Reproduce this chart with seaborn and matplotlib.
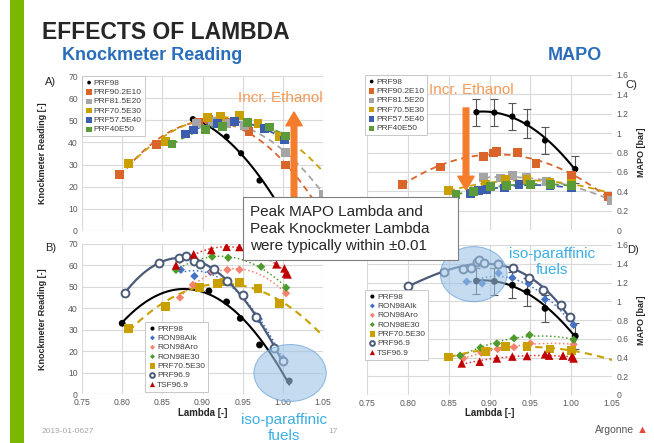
import numpy as np
import matplotlib
matplotlib.use("Agg")
import matplotlib.pyplot as plt
import seaborn as sns
from matplotlib.patches import Ellipse, Rectangle

# ---- data ----
lam_ticks = [0.75, 0.80, 0.85, 0.90, 0.95, 1.00, 1.05]
lam_labels = ["0.75", "0.80", "0.85", "0.90", "0.95", "1.00", "1.05"]
knock_ticks = [0, 10, 20, 30, 40, 50, 60, 70]
knock_labels = ["0", "10", "20", "30", "40", "50", "60", "70"]
mapo_ticks = [0, 0.2, 0.4, 0.6, 0.8, 1.0, 1.2, 1.4, 1.6]
mapo_labels = ["0", "0.2", "0.4", "0.6", "0.8", "1", "1.2", "1.4", "1.6"]

# A) knockmeter, ethanol blends
a_prf98_x = [0.888, 0.930, 0.948, 0.971, 1.005]
a_prf98_y = [50.5, 42.6, 35.1, 22.8, 6.0]
a_e10_x = [0.797, 0.843, 0.895, 0.908, 0.930, 0.958, 1.003]
a_e10_y = [25.6, 38.9, 49.0, 50.3, 49.0, 44.9, 29.8]
a_e20_x = [0.893, 0.912, 0.930, 0.952, 1.003, 1.051]
a_e20_y = [48.5, 49.5, 48.5, 47.5, 35.4, 16.6]
a_e30_x = [0.808, 0.854, 0.906, 0.922, 0.946, 0.969, 0.996]
a_e30_y = [30.6, 40.4, 51.4, 51.7, 52.0, 48.6, 42.6]
a_e40_x = [0.879, 0.889, 0.919, 0.940, 0.977, 1.002]
a_e40_y = [43.8, 45.6, 48.6, 49.4, 46.4, 41.1]
a_e50_x = [0.862, 0.904, 0.925, 0.956, 0.983, 1.003]
a_e50_y = [39.3, 46.0, 47.1, 49.0, 47.0, 42.9]

# C) MAPO, ethanol blends
c_prf98_x = [0.884, 0.906, 0.928, 0.946, 0.968, 1.005]
c_prf98_y = [1.216, 1.212, 1.171, 1.100, 0.924, 0.629]
c_prf98_err = [0.14, 0.14, 0.14, 0.15, 0.14, 0.14]
c_e10_x = [0.793, 0.840, 0.893, 0.905, 0.909, 0.934, 0.957, 1.000, 1.045]
c_e10_y = [0.468, 0.650, 0.760, 0.794, 0.807, 0.800, 0.684, 0.560, 0.348]
c_e20_x = [0.893, 0.913, 0.928, 0.945, 0.970, 1.000, 1.049]
c_e20_y = [0.543, 0.536, 0.560, 0.540, 0.500, 0.460, 0.307]
c_e30_x = [0.850, 0.895, 0.920, 0.946, 0.974, 1.000]
c_e30_y = [0.406, 0.468, 0.519, 0.520, 0.490, 0.478]
c_e40_x = [0.877, 0.887, 0.897, 0.918, 0.936, 0.974, 1.000]
c_e40_y = [0.375, 0.406, 0.416, 0.434, 0.468, 0.458, 0.433]
c_e50_x = [0.859, 0.880, 0.901, 0.921, 0.950, 0.975, 1.000]
c_e50_y = [0.365, 0.400, 0.450, 0.458, 0.468, 0.470, 0.460]

# B) knockmeter, other fuels
b_prf98_x = [0.800, 0.908, 0.930, 0.947, 0.971, 1.008]
b_prf98_y = [33.0, 48.1, 43.0, 35.3, 22.9, 6.1]
b_alk_x = [0.873, 0.890, 0.910, 0.950, 0.970, 1.000]
b_alk_y = [58.0, 55.0, 57.0, 46.0, 35.0, 16.5]
b_aro_x = [0.872, 0.888, 0.912, 0.931, 0.946, 1.004]
b_aro_y = [45.0, 50.9, 57.1, 57.9, 58.0, 47.0]
b_e30_x = [0.867, 0.890, 0.912, 0.932, 0.973, 1.004]
b_e30_y = [57.9, 62.0, 64.1, 63.6, 59.4, 49.6]
b_gold_x = [0.808, 0.854, 0.896, 0.919, 0.927, 0.946, 0.969, 0.996]
b_gold_y = [30.6, 40.7, 49.6, 51.6, 52.3, 52.0, 49.3, 42.3]
b_p969_x = [0.803, 0.846, 0.871, 0.879, 0.890, 0.897, 0.914, 0.931, 0.950, 0.967, 0.989, 1.000]
b_p969_y = [47.0, 61.3, 63.3, 64.4, 62.2, 60.7, 58.2, 52.9, 46.2, 35.8, 21.3, 15.5]
b_tsf_x = [0.867, 0.889, 0.911, 0.930, 0.946, 0.992, 1.002, 1.004, 1.006]
b_tsf_y = [60.0, 65.2, 67.2, 68.7, 68.6, 60.5, 58.6, 56.2, 55.8]

# D) MAPO, other fuels
d_alk_x = [0.872, 0.891, 0.911, 0.928, 0.948, 0.968, 1.003]
d_alk_y = [1.209, 1.190, 1.300, 1.250, 1.190, 1.020, 0.747]
d_aro_x = [0.868, 0.890, 0.910, 0.930, 0.950, 1.003]
d_aro_y = [0.390, 0.450, 0.490, 0.510, 0.550, 0.540]
d_e30_x = [0.864, 0.889, 0.909, 0.930, 0.949, 1.003]
d_e30_y = [0.420, 0.505, 0.550, 0.605, 0.640, 0.590]
d_p969_x = [0.800, 0.844, 0.868, 0.877, 0.885, 0.887, 0.893, 0.911, 0.929, 0.948, 0.966, 0.987, 0.998]
d_p969_y = [1.163, 1.315, 1.344, 1.350, 1.420, 1.440, 1.410, 1.400, 1.358, 1.245, 1.120, 0.960, 0.835]
d_tsf_x = [0.866, 0.888, 0.909, 0.928, 0.946, 0.968, 0.973, 0.990, 1.001, 1.003]
d_tsf_y = [0.337, 0.355, 0.390, 0.410, 0.416, 0.434, 0.420, 0.420, 0.410, 0.390]

# colours
BLACK = "#000000"
ORANGE = "#D9652B"
GREY = "#A5A5A5"
GOLD = "#C9A000"
BLUE = "#3B5FAE"
GREEN = "#5B9B3A"
ALK = "#4472C4"
ARO = "#F4826E"
E30G = "#4E9A2D"
SLATE = "#4A5A78"
RED = "#C00000"
ARROW = "#F47C2A"
TXT_OR = "#F59A55"
ISO = "#3BAFE3"

sns.set_theme(style="white")
plt.rcParams["font.family"] = ["Liberation Sans", "DejaVu Sans"]

fig = plt.figure(figsize=(6.54, 4.43), dpi=100)
fig.patch.set_facecolor("white")


def P(x, y):
    # slide pixel -> figure fraction
    return x / 654, 1 - y / 443


def trend(ax, x, y, color, ls, order=2, fwd=0.0, lw=1.3):
    c = np.polyfit(x, y, order)
    xs = np.linspace(min(x), max(x) + fwd, 120)
    ax.plot(xs, np.polyval(c, xs), color=color, linestyle=ls, lw=lw, zorder=2)


def pts(ax, x, y, color, marker, s, label):
    sns.scatterplot(x=x, y=y, ax=ax, color=color, marker=marker, s=s,
                    edgecolor="none", linewidth=0, label=label, zorder=3)


def open_pts(ax, x, y, label):
    ax.scatter(x, y, s=32, facecolors="white", edgecolors=SLATE,
               linewidths=1.4, label=label, zorder=3)


def style(ax, knock, show_x):
    ax.set_xlim(0.75, 1.05)
    ax.set_xticks(lam_ticks)
    if knock:
        ax.set_ylim(0, 70)
        ax.set_yticks(knock_ticks)
        ax.set_yticklabels(knock_labels)
    else:
        ax.set_ylim(0, 1.6)
        ax.set_yticks(mapo_ticks)
        ax.set_yticklabels(mapo_labels)
        ax.yaxis.tick_right()
    if show_x:
        ax.set_xticklabels(lam_labels)
    else:
        ax.set_xticklabels([])
    for sp in ax.spines.values():
        sp.set_visible(False)
    ax.grid(True, color="#D9D9D9", lw=0.8)
    ax.set_axisbelow(True)
    ax.tick_params(length=0, labelsize=6.2, colors="#595959", pad=3)
    ax.set_facecolor("none")


dash = (0, (3.5, 2.5))

axA = fig.add_axes([82 / 654, 1 - 231 / 443, 241 / 654, 155 / 443])
axB = fig.add_axes([82 / 654, 1 - 394 / 443, 241 / 654, 150 / 443])
axC = fig.add_axes([367 / 654, 1 - 230 / 443, 245 / 654, 155 / 443])
axD = fig.add_axes([367 / 654, 1 - 395 / 443, 245 / 654, 150 / 443])

SQ = 40

# ---- A ----
trend(axA, a_prf98_x, a_prf98_y, BLACK, "-", lw=1.5)
trend(axA, a_e10_x, a_e10_y, ORANGE, dash, fwd=0.045)
trend(axA, a_e20_x, a_e20_y, GREY, dash)
trend(axA, a_e30_x, a_e30_y, GOLD, dash, fwd=0.055)
trend(axA, a_e40_x, a_e40_y, BLUE, dash)
trend(axA, a_e50_x, a_e50_y, GREEN, dash)
pts(axA, a_prf98_x, a_prf98_y, BLACK, "o", 20, "PRF98")
pts(axA, a_e10_x, a_e10_y, ORANGE, "s", SQ, "PRF90.2E10")
pts(axA, a_e20_x, a_e20_y, GREY, "s", SQ, "PRF81.5E20")
pts(axA, a_e30_x, a_e30_y, GOLD, "s", SQ, "PRF70.5E30")
pts(axA, a_e40_x, a_e40_y, BLUE, "s", SQ, "PRF57.5E40")
pts(axA, a_e50_x, a_e50_y, GREEN, "s", SQ, "PRF40E50")

# ---- C ----
trend(axC, c_prf98_x, c_prf98_y, BLACK, "-", lw=1.5)
trend(axC, c_e10_x, c_e10_y, ORANGE, dash)
trend(axC, c_e20_x, c_e20_y, GREY, dash)
trend(axC, c_e30_x, c_e30_y, GOLD, dash, fwd=0.05)
trend(axC, c_e40_x, c_e40_y, BLUE, dash)
trend(axC, c_e50_x, c_e50_y, GREEN, dash)
axC.errorbar(c_prf98_x, c_prf98_y, yerr=c_prf98_err, fmt="none",
             ecolor="#555555", elinewidth=0.8, capsize=3, capthick=0.8, zorder=2)
pts(axC, c_prf98_x, c_prf98_y, BLACK, "o", 20, "PRF98")
pts(axC, c_e10_x, c_e10_y, ORANGE, "s", SQ, "PRF90.2E10")
pts(axC, c_e20_x, c_e20_y, GREY, "s", SQ, "PRF81.5E20")
pts(axC, c_e30_x, c_e30_y, GOLD, "s", SQ, "PRF70.5E30")
pts(axC, c_e40_x, c_e40_y, BLUE, "s", SQ, "PRF57.5E40")
pts(axC, c_e50_x, c_e50_y, GREEN, "s", SQ, "PRF40E50")

# ---- B ----
trend(axB, b_prf98_x, b_prf98_y, BLACK, "-", lw=1.5)
trend(axB, b_alk_x, b_alk_y, ALK, ":", lw=1.1)
trend(axB, b_aro_x, b_aro_y, ARO, ":", lw=1.1)
trend(axB, b_e30_x, b_e30_y, E30G, ":", lw=1.1)
trend(axB, b_gold_x, b_gold_y, GOLD, dash, fwd=0.055, lw=1.5)
trend(axB, b_p969_x, b_p969_y, SLATE, "-", order=3, lw=1.6)
trend(axB, b_tsf_x, b_tsf_y, "#E03030", ":", lw=1.1)
pts(axB, b_prf98_x, b_prf98_y, BLACK, "o", 24, "PRF98")
pts(axB, b_alk_x, b_alk_y, ALK, "D", 18, "RON98Alk")
pts(axB, b_aro_x, b_aro_y, ARO, "D", 18, "RON98Aro")
pts(axB, b_e30_x, b_e30_y, E30G, "D", 18, "RON98E30")
pts(axB, b_gold_x, b_gold_y, GOLD, "s", SQ, "PRF70.5E30")
open_pts(axB, b_p969_x, b_p969_y, "PRF96.9")
pts(axB, b_tsf_x, b_tsf_y, RED, "^", 38, "TSF96.9")

# ---- D ----
trend(axD, c_prf98_x, c_prf98_y, BLACK, "-", lw=1.5)
trend(axD, d_alk_x, d_alk_y, ALK, ":", lw=1.1)
trend(axD, d_aro_x, d_aro_y, ARO, ":", lw=1.1)
trend(axD, d_e30_x, d_e30_y, E30G, ":", lw=1.1)
trend(axD, c_e30_x, c_e30_y, GOLD, dash, fwd=0.05, lw=1.5)
trend(axD, d_p969_x, d_p969_y, SLATE, "-", order=3, lw=1.6)
trend(axD, d_tsf_x, d_tsf_y, "#E03030", ":", lw=1.1)
axD.errorbar(c_prf98_x, c_prf98_y, yerr=c_prf98_err, fmt="none",
             ecolor="#555555", elinewidth=0.8, capsize=3, capthick=0.8, zorder=2)
pts(axD, c_prf98_x, c_prf98_y, BLACK, "o", 24, "PRF98")
pts(axD, d_alk_x, d_alk_y, ALK, "D", 18, "RON98Alk")
pts(axD, d_aro_x, d_aro_y, ARO, "D", 18, "RON98Aro")
pts(axD, d_e30_x, d_e30_y, E30G, "D", 18, "RON98E30")
pts(axD, c_e30_x, c_e30_y, GOLD, "s", SQ, "PRF70.5E30")
open_pts(axD, d_p969_x, d_p969_y, "PRF96.9")
pts(axD, d_tsf_x, d_tsf_y, RED, "^", 38, "TSF96.9")

style(axA, True, False)
style(axB, True, True)
style(axC, False, False)
style(axD, False, True)

leg_kw = dict(loc="upper left", fontsize=6, frameon=True, fancybox=False,
              edgecolor="#BFBFBF", framealpha=1, borderpad=0.35,
              labelspacing=0.18, handletextpad=0.05, handlelength=1.0,
              markerscale=0.6, borderaxespad=0)
for ax, anchor in [(axA, (0.0, 1.0)), (axC, (-0.01, 1.0)),
                   (axB, (0.263, 0.48)), (axD, (-0.007, 0.70))]:
    lg = ax.legend(bbox_to_anchor=anchor, **leg_kw)
    lg.get_frame().set_linewidth(0.6)
    for t in lg.get_texts():
        t.set_color("#404040")

# axis labels
for ax in (axA, axB):
    ax.set_ylabel("Knockmeter Reading [-]", fontsize=6.5, weight="bold", color="#262626")
    ax.yaxis.set_label_coords(-0.145, 0.5)
for ax in (axC, axD):
    ax.yaxis.set_label_position("right")
    ax.set_ylabel("MAPO [bar]", fontsize=6.5, weight="bold", color="#262626")
    ax.yaxis.set_label_coords(1.10, 0.5)
for ax in (axB, axD):
    ax.set_xlabel("Lambda [-]", fontsize=7, weight="bold", color="#262626")
    ax.xaxis.set_label_coords(0.5, -0.09)

# blue ellipses
axB.add_patch(Ellipse((1.009, 9.8), 0.09, 26.6, facecolor="#9DC3E6", edgecolor="#5B9BD5",
                      lw=0.8, alpha=0.6, zorder=4, clip_on=False))
axD.add_patch(Ellipse((0.8807, 1.289), 0.0817, 0.587, facecolor="#9DC3E6", edgecolor="#5B9BD5",
                      lw=0.8, alpha=0.6, zorder=4, clip_on=False))

# green bar, title, headers
fig.patches.append(Rectangle((10 / 654, 0), 14 / 654, 1, transform=fig.transFigure,
                             facecolor="#7AB800", edgecolor="none", zorder=0))
fig.text(*P(42, 39), "EFFECTS OF LAMBDA", fontsize=16.5, weight="bold", color="#262626", va="baseline")
fig.text(*P(62, 60), "Knockmeter Reading", fontsize=13, weight="bold", color="#2A6EBB", va="baseline")
fig.text(*P(548, 60), "MAPO", fontsize=13, weight="bold", color="#2A6EBB", va="baseline")

# panel letters
fig.text(*P(45, 85), "A)", fontsize=8, color="#262626", va="baseline")
fig.text(*P(45, 251), "B)", fontsize=8, color="#262626", va="baseline")
fig.text(*P(625, 88), "C)", fontsize=8, color="#262626", va="baseline")
fig.text(*P(627, 253), "D)", fontsize=8, color="#262626", va="baseline")

# incr. ethanol annotations
fig.text(*P(280, 98), "Incr. Ethanol", fontsize=11, color=TXT_OR, ha="center", va="center")
fig.text(*P(471, 90), "Incr. Ethanol", fontsize=11, color=TXT_OR, ha="center", va="center")
astyle = dict(arrowstyle="simple,head_width=1.3,head_length=1.1,tail_width=0.45",
              color=ARROW, mutation_scale=9, shrinkA=0, shrinkB=0)
a1 = plt.annotate("", xy=P(294, 112), xytext=P(294, 230), xycoords="figure fraction",
                  textcoords="figure fraction", arrowprops=astyle, annotation_clip=False)
a2 = plt.annotate("", xy=P(466, 190), xytext=P(466, 108), xycoords="figure fraction",
                  textcoords="figure fraction", arrowprops=astyle, annotation_clip=False)
a1.set_zorder(6)
a2.set_zorder(6)

# central text box
fig.patches.append(Rectangle(P(243, 260), 215 / 654, 63 / 443, transform=fig.transFigure,
                             facecolor="white", edgecolor="#7F7F7F", lw=0.8, zorder=10))
fig.text(*P(250, 229), "Peak MAPO Lambda and\nPeak Knockmeter Lambda\nwere typically within \u00b10.01",
         fontsize=11, color="#262626", va="center", ha="left", linespacing=1.3, zorder=11)

# iso-paraffinic notes
fig.text(*P(284, 428), "iso-paraffinic\nfuels", fontsize=11, color=ISO, ha="center",
         va="center", linespacing=1.15, zorder=11)
fig.text(*P(552, 262), "iso-paraffinic\nfuels", fontsize=11, color=ISO, ha="center",
         va="center", linespacing=1.15, zorder=11)

# footer
fig.text(*P(42, 433), "2019-01-0627", fontsize=6, color="#A6A6A6", va="baseline")
fig.text(*P(328, 433), "17", fontsize=6, color="#A6A6A6", va="baseline")
fig.text(*P(595, 433), "Argonne", fontsize=7.5, color="#555555", va="baseline")
fig.text(*P(637, 433), "\u25b2", fontsize=8, color="#E8463A", va="baseline")

fig.savefig("out.png", dpi=100)
